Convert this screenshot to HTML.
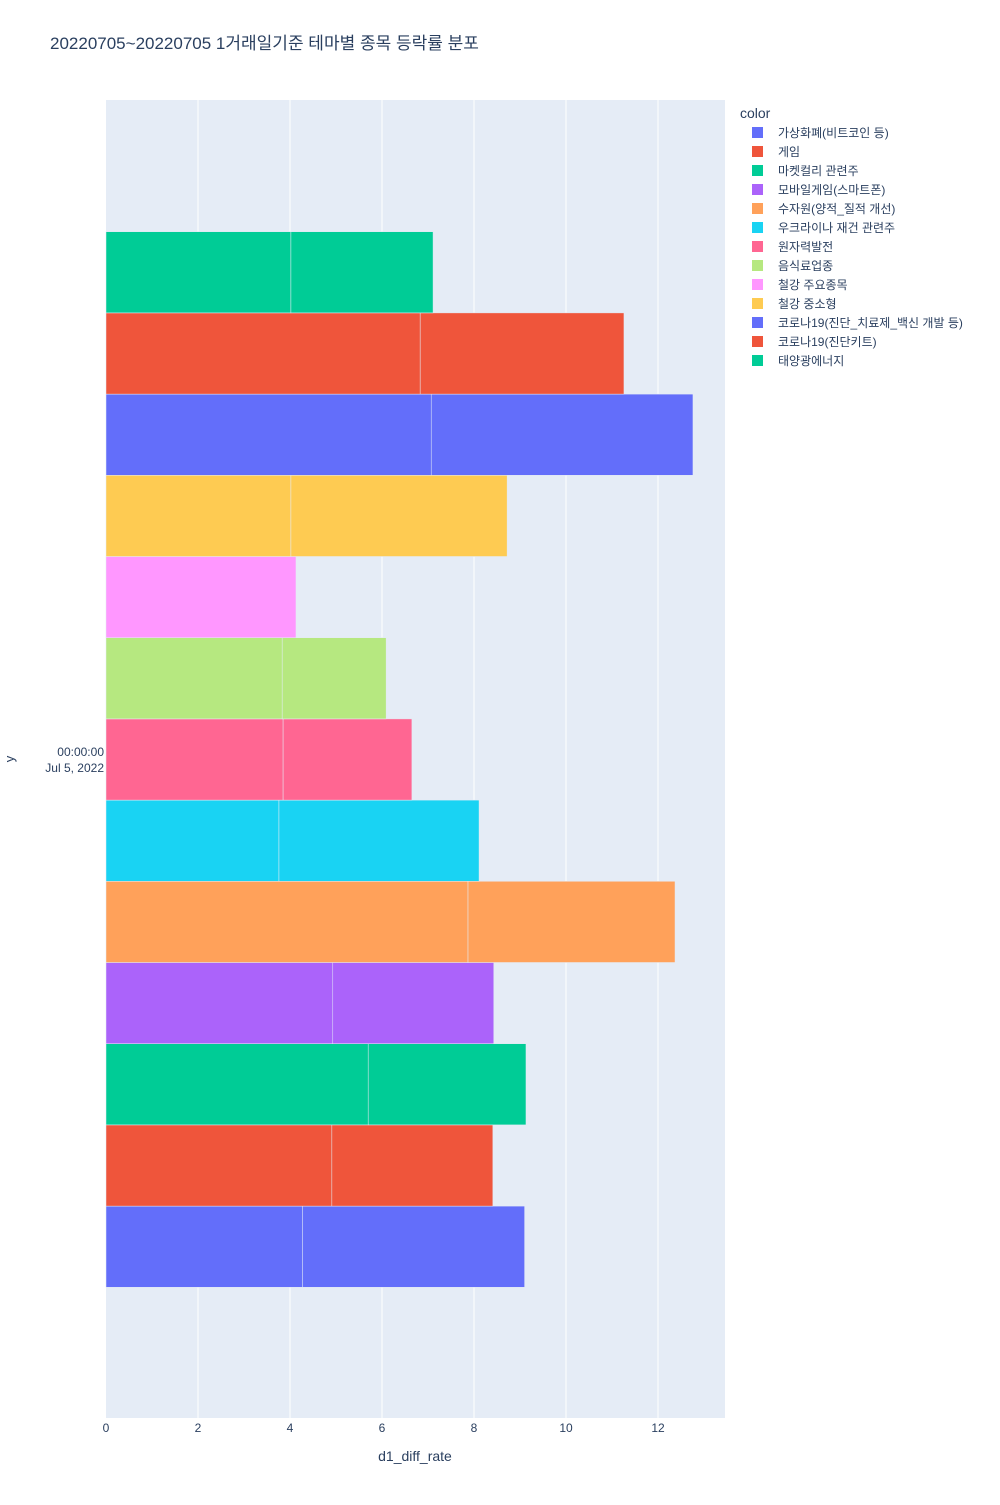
<!DOCTYPE html>
<html><head><meta charset="utf-8">
<style>
body{margin:0;background:#fff;font-family:"Liberation Sans","Noto Sans CJK KR",sans-serif;}
svg text{font-family:"Liberation Sans","Noto Sans CJK KR",sans-serif;}
</style></head>
<body>
<svg id="chart" width="1000" height="1500" xmlns="http://www.w3.org/2000/svg">
<text x="50" y="49" font-size="17" fill="#2a3f5f">20220705~20220705 1거래일기준 테마별 종목 등락률 분포</text>
<rect x="106" y="100" width="619" height="1318" fill="#e5ecf6"/>
<g id="grid"></g>
<g id="bars"></g>
<g id="xticks"></g>
<text x="104" y="756" font-size="12" fill="#2a3f5f" text-anchor="end">00:00:00</text>
<text x="104" y="772" font-size="12" fill="#2a3f5f" text-anchor="end">Jul 5, 2022</text>
<text x="14" y="759" font-size="13" fill="#2a3f5f" text-anchor="middle" transform="rotate(-90 14 759)">y</text>
<text x="415" y="1461" font-size="14" fill="#2a3f5f" text-anchor="middle">d1_diff_rate</text>
<text x="740" y="118" font-size="14" fill="#2a3f5f">color</text>
<g id="legend"></g>
</svg>
<script>
const categories=["가상화폐(비트코인 등)","게임","마켓컬리 관련주","모바일게임(스마트폰)","수자원(양적_질적 개선)","우크라이나 재건 관련주","원자력발전","음식료업종","철강 주요종목","철강 중소형","코로나19(진단_치료제_백신 개발 등)","코로나19(진단키트)","태양광에너지"];
const stockA=[4.27,4.91,5.70,4.93,7.87,3.76,3.85,3.83,4.13,4.02,7.07,6.83,4.02];
const stockB=[4.83,3.50,3.43,3.50,4.50,4.35,2.80,2.26,0,4.70,5.69,4.43,3.09];
const xTicks=[0,2,4,6,8,10,12];
const colors=["#636efa","#EF553B","#00cc96","#ab63fa","#FFA15A","#19d3f3","#FF6692","#B6E880","#FF97FF","#FECB52","#636efa","#EF553B","#00cc96"];
const NS="http://www.w3.org/2000/svg";
const x0=106,pxPer=46,plotTop=100,plotBot=1418;
const xs=v=>x0+v*pxPer;
const n=categories.length,band=81.2,center=759.5;
const bandTop=i=>center+n*band/2-(i+1)*band;
function mk(t,a,p){const e=document.createElementNS(NS,t);for(const k in a)e.setAttribute(k,a[k]);p.appendChild(e);return e;}
const grid=document.getElementById('grid'),bars=document.getElementById('bars'),xt=document.getElementById('xticks'),lg=document.getElementById('legend');
xTicks.forEach(t=>{
 if(t>0){const g=mk('line',{x1:xs(t),x2:xs(t),y1:plotTop,y2:plotBot,stroke:'#fff','stroke-width':1},grid);
 
 }
 const tx=mk('text',{x:xs(t),y:1432,'font-size':12,fill:'#2a3f5f','text-anchor':'middle'},xt);
 tx.textContent=t;
 
 
});
categories.forEach((c,i)=>{
 const y=bandTop(i);
 const a=mk('rect',{x:xs(0),y:y,width:stockA[i]*pxPer,height:band,fill:colors[i],stroke:'#e5ecf6','stroke-width':0.5},bars);
 
 
 if(stockB[i]>0){const b=mk('rect',{x:xs(stockA[i]),y:y,width:stockB[i]*pxPer,height:band,fill:colors[i],stroke:'#e5ecf6','stroke-width':0.5},bars);
 
 }
 const ly=132+i*19;
 const g=mk('g',{},lg);
 
 
 mk('rect',{x:752,y:ly-5,width:11,height:11,fill:colors[i]},g);
 const t=mk('text',{x:778,y:ly+5,'font-size':12,fill:'#2a3f5f'},g);
 t.textContent=c;
});
</script>
</body></html>
